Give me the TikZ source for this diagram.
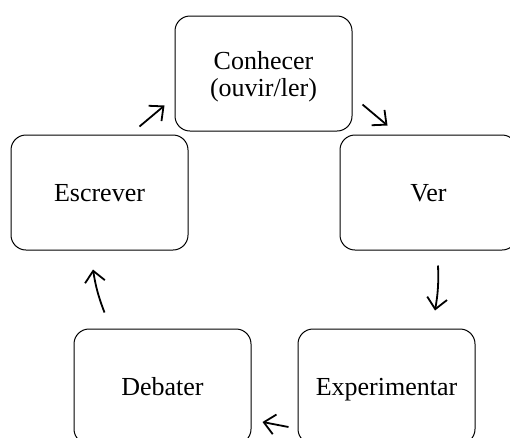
\documentclass[tikz,border=0pt]{standalone}
\usepackage{fontspec}
\setmainfont{Liberation Serif}
\usetikzlibrary{arrows.meta,calc}
\begin{document}
\begin{tikzpicture}[x=1pt,y=-1pt,
  stagebox/.style={draw=black,line width=1pt,rounded corners=15pt,minimum width=177pt,minimum height=115pt,inner sep=0pt,align=center,font=\fontsize{26}{27.4}\selectfont},
  oneline/.style={text height=17pt,text depth=0pt},
  twoline/.style={text height=52pt,text depth=6pt},
  arr/.style={line width=1.8pt,-{Straight Barb[length=11pt,width=20pt,line width=1.8pt]}}]
\useasboundingbox (0,0) rectangle (510,437);
\clip (0,0) rectangle (510,437);
\node[stagebox,twoline] (con) at (263.5,73.5) {Conhecer\\(ouvir/ler)};
\node[stagebox,oneline] (esc) at (99.5,192.5) {Escrever};
\node[stagebox,oneline] (ver) at (428.5,192.5) {Ver};
\node[stagebox,oneline] (deb) at (162.5,386.5) {Debater};
\node[stagebox,oneline] (exp) at (386.5,386.5) {Experimentar};
\draw[arr] ($(esc.north east)+(-49,-8)$) -- ($(con.south west)+(-10,-26)$);
\draw[arr] ($(con.south east)+(10,-27)$) -- ($(ver.north west)+(48,-9)$);
\draw[arr] ($(ver.south)+(9.5,15)$) to[bend left=6] ($(exp.north)+(48.5,-18)$);
\draw[arr] ($(exp.west)+(-9,40.5)$) -- ($(deb.east)+(11,35.5)$);
\draw[arr] ($(deb.north west)+(31,-16)$) to[bend left=6] ($(esc.south)+(-6.5,19)$);
\end{tikzpicture}
\end{document}
